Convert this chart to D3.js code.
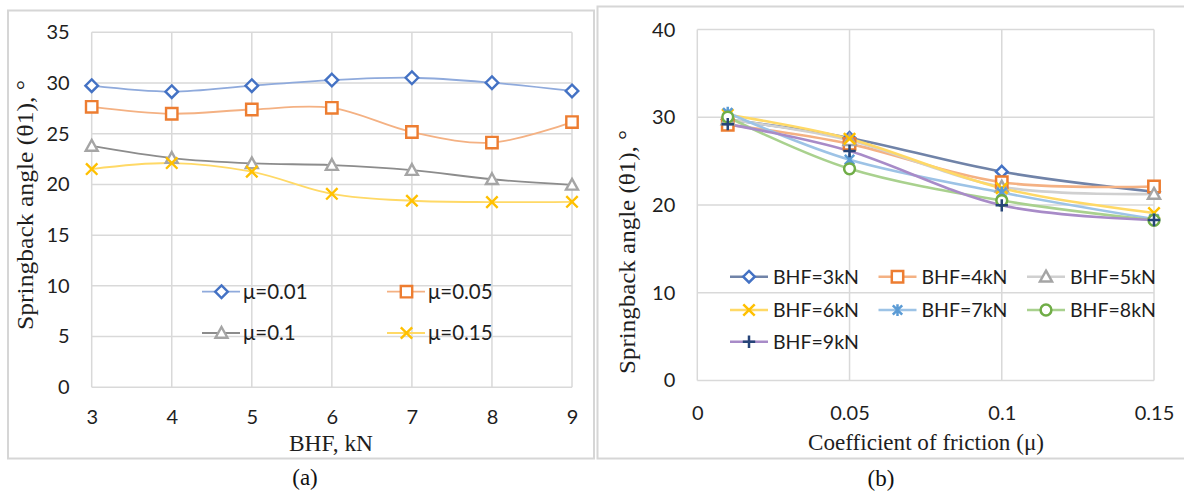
<!DOCTYPE html>
<html>
<head>
<meta charset="utf-8">
<script src="https://cdn.jsdelivr.net/npm/d3@7"></script>
<style>
  html, body { margin: 0; padding: 0; background: #fff; }
  svg { display: block; }
</style>
</head>
<body>
<svg id="fig" width="1184" height="491"></svg>
<script>
// Blank holder force (kN) on the category axis of panel (a)
const bhfCategories = [3, 4, 5, 6, 7, 8, 9];
// Friction coefficients
const muLevels = [0.01, 0.05, 0.1, 0.15];

// Springback angle (deg) for each friction coefficient, over BHF 3..9 kN
const springMu001 = [29.74, 29.15, 29.74, 30.29, 30.52, 30.03, 29.22];
const springMu005 = [27.65, 26.97, 27.39, 27.55, 25.17, 24.13, 26.15];
const springMu010 = [23.80, 22.60, 22.08, 21.91, 21.42, 20.51, 19.96];
const springMu015 = [21.52, 22.11, 21.26, 19.08, 18.39, 18.26, 18.29];

const muLabels  = ["μ=0.01", "μ=0.05", "μ=0.1", "μ=0.15"];
const bhfLabels = ["BHF=3kN", "BHF=4kN", "BHF=5kN", "BHF=6kN", "BHF=7kN", "BHF=8kN", "BHF=9kN"];

const yTicksA = [0, 5, 10, 15, 20, 25, 30, 35];
const yTicksB = [0, 10, 20, 30, 40];
const xTicksB = [0, 0.05, 0.1, 0.15];
const xTickLabelsB = ["0", "0.05", "0.1", "0.15"];

const axisTitleY = "Springback angle (θ1), °";
const axisTitleXA = "BHF, kN";
const axisTitleXB = "Coefficient of friction (μ)";

const svg = d3.select("#fig");
svg.append("rect").attr("width", 1184).attr("height", 491).attr("fill", "#fff");

const GRID = "#d9d9d9";
const TICK_FONT = "Lato, 'Open Sans', sans-serif";
const SERIF = "'Liberation Serif', 'DejaVu Serif', serif";
const TEXT = "#1e1e1e";

// marker glyphs
function markerPath(kind, s) {
  const p = d3.path();
  if (kind === "diamond") { p.moveTo(0, -s); p.lineTo(s, 0); p.lineTo(0, s); p.lineTo(-s, 0); p.closePath(); }
  else if (kind === "square") { p.rect(-s, -s, 2 * s, 2 * s); }
  else if (kind === "triangle") { const h = s * 1.05; p.moveTo(0, -h); p.lineTo(h, h * 0.8); p.lineTo(-h, h * 0.8); p.closePath(); }
  else if (kind === "x") { p.moveTo(-s, -s); p.lineTo(s, s); p.moveTo(s, -s); p.lineTo(-s, s); }
  else if (kind === "star") { p.moveTo(-s, -s); p.lineTo(s, s); p.moveTo(s, -s); p.lineTo(-s, s); p.moveTo(0, -s * 1.25); p.lineTo(0, s * 1.25); }
  else if (kind === "circle") { p.moveTo(s, 0); p.arc(0, 0, s, 0, Math.PI * 2); }
  else if (kind === "plus") { p.moveTo(-s, 0); p.lineTo(s, 0); p.moveTo(0, -s); p.lineTo(0, s); }
  return p.toString();
}
const filled = k => (k === "diamond" || k === "square" || k === "triangle" || k === "circle");

function drawMarker(g, kind, color, x, y, size, sw) {
  g.append("path")
    .attr("d", markerPath(kind, size))
    .attr("transform", `translate(${x},${y})`)
    .attr("fill", filled(kind) ? "#fff" : "none")
    .attr("stroke", color)
    .attr("stroke-width", sw)
    .attr("stroke-linecap", "butt");
}

// ---------- panel frames ----------
svg.append("rect").attr("x", 8).attr("y", 10.5).attr("width", 586).attr("height", 448)
  .attr("fill", "none").attr("stroke", "#d6d6d6").attr("stroke-width", 2);
svg.append("rect").attr("x", 597.5).attr("y", 6.5).attr("width", 600).attr("height", 452)
  .attr("fill", "none").attr("stroke", "#d6d6d6").attr("stroke-width", 2);

// ================= Panel (a) =================
const seriesA = [springMu001, springMu005, springMu010, springMu015];
const styleA = [
  { line: "#8faadc", mark: "#4472c4", kind: "diamond", size: 6.3 },
  { line: "#f4b183", mark: "#ed7d31", kind: "square", size: 5.7 },
  { line: "#8c8c8c", mark: "#a5a5a5", kind: "triangle", size: 5.7 },
  { line: "#ffd966", mark: "#ffc000", kind: "x", size: 5.7 }
];

const xA = d3.scalePoint().domain(bhfCategories).range([91.7, 572]).padding(0);
const yA = d3.scaleLinear().domain([0, 35]).range([387.3, 32.3]);

const gA = svg.append("g");
// grid
gA.append("g").selectAll("line").data(yTicksA).join("line")
  .attr("x1", xA(3)).attr("x2", xA(9)).attr("y1", d => yA(d)).attr("y2", d => yA(d))
  .attr("stroke", GRID).attr("stroke-width", 1.5);
gA.append("g").selectAll("line").data(bhfCategories).join("line")
  .attr("x1", d => xA(d)).attr("x2", d => xA(d)).attr("y1", yA(0)).attr("y2", yA(35))
  .attr("stroke", GRID).attr("stroke-width", 1.5);

// tick labels through d3 axes with hidden domain/ticks
const axYA = gA.append("g").attr("transform", `translate(${xA(3)},0)`)
  .call(d3.axisLeft(yA).tickValues(yTicksA).tickSize(0).tickPadding(22));
const axXA = gA.append("g").attr("transform", `translate(0,${yA(0)})`)
  .call(d3.axisBottom(xA).tickSize(0).tickPadding(23));
[axYA, axXA].forEach(ax => {
  ax.select(".domain").remove();
  ax.selectAll("text").attr("font-family", TICK_FONT).attr("font-size", 20).attr("fill", TEXT);
});
axXA.selectAll("text").attr("dy", "0.71em");

const lineA = d3.line().x((d, i) => xA(bhfCategories[i])).y(d => yA(d)).curve(d3.curveCatmullRom.alpha(0));
seriesA.forEach((vals, si) => {
  gA.append("path").attr("d", lineA(vals)).attr("fill", "none")
    .attr("stroke", styleA[si].line).attr("stroke-width", 1.8);
});
seriesA.forEach((vals, si) => {
  vals.forEach((v, i) => drawMarker(gA, styleA[si].kind, styleA[si].mark, xA(bhfCategories[i]), yA(v), styleA[si].size, 2.4));
});

// legend (a)
const legA = [
  { x: 202, y: 291.7 }, { x: 387, y: 291.7 },
  { x: 202, y: 333 }, { x: 387, y: 333 }
];
legA.forEach((p, i) => {
  const st = styleA[i];
  gA.append("line").attr("x1", p.x).attr("x2", p.x + 38).attr("y1", p.y).attr("y2", p.y)
    .attr("stroke", st.line).attr("stroke-width", 1.8);
  drawMarker(gA, st.kind, st.mark, p.x + 19.5, p.y, st.size, 2.4);
  gA.append("text").attr("x", p.x + 41).attr("y", p.y).attr("dy", "0.35em")
    .attr("font-family", TICK_FONT).attr("font-size", 20.5).attr("fill", TEXT).text(muLabels[i]);
});

// axis titles (a)
gA.append("text").attr("x", 331).attr("y", 443).attr("dy", "0.35em").attr("text-anchor", "middle")
  .attr("font-family", SERIF).attr("font-size", 22.5).attr("fill", TEXT)
  .attr("textLength", 84).attr("lengthAdjust", "spacingAndGlyphs").text(axisTitleXA);
gA.append("text").attr("transform", "translate(25,205) rotate(-90)").attr("dy", "0.35em").attr("text-anchor", "middle")
  .attr("font-family", SERIF).attr("font-size", 22.5).attr("fill", TEXT)
  .attr("textLength", 250).attr("lengthAdjust", "spacingAndGlyphs").text(axisTitleY);

svg.append("text").attr("x", 305).attr("y", 477).attr("dy", "0.35em").attr("text-anchor", "middle")
  .attr("font-family", SERIF).attr("font-size", 23).attr("fill", "#111").text("(a)");

// ================= Panel (b) =================
const styleB = [
  { line: "#7083a8", mark: "#4472c4", kind: "diamond", size: 5.8 },
  { line: "#f4b183", mark: "#ed7d31", kind: "square", size: 5.7 },
  { line: "#d0d0d0", mark: "#a5a5a5", kind: "triangle", size: 5.7 },
  { line: "#ffd966", mark: "#ffc000", kind: "x", size: 5.7 },
  { line: "#9dc3e6", mark: "#5b9bd5", kind: "star", size: 4.7 },
  { line: "#a9d18e", mark: "#70ad47", kind: "circle", size: 5.4 },
  { line: "#a88bc8", mark: "#264478", kind: "plus", size: 6.2 }
];
// one series per BHF, running across friction levels
const seriesB = bhfCategories.map((b, bi) => seriesA.map(vals => vals[bi]));

const xB = d3.scaleLinear().domain([0, 0.15]).range([697.3, 1154]);
const yB = d3.scaleLinear().domain([0, 40]).range([380.4, 29.6]);
const gB = svg.append("g");

gB.append("g").selectAll("line").data(yTicksB).join("line")
  .attr("x1", xB(0)).attr("x2", xB(0.15)).attr("y1", d => yB(d)).attr("y2", d => yB(d))
  .attr("stroke", GRID).attr("stroke-width", 1.5);
gB.append("g").selectAll("line").data(xTicksB).join("line")
  .attr("x1", d => xB(d)).attr("x2", d => xB(d)).attr("y1", yB(0)).attr("y2", yB(40))
  .attr("stroke", GRID).attr("stroke-width", 1.5);

const axYB = gB.append("g").attr("transform", `translate(${xB(0)},0)`)
  .call(d3.axisLeft(yB).tickValues(yTicksB).tickSize(0).tickPadding(22));
const axXB = gB.append("g").attr("transform", `translate(0,${yB(0)})`)
  .call(d3.axisBottom(xB).tickValues(xTicksB).tickFormat((d, i) => xTickLabelsB[i]).tickSize(0).tickPadding(25));
[axYB, axXB].forEach(ax => {
  ax.select(".domain").remove();
  ax.selectAll("text").attr("font-family", TICK_FONT).attr("font-size", 20).attr("fill", TEXT);
});
axXB.selectAll("text").attr("dy", "0.71em");

const lineB = d3.line().x((d, i) => xB(muLevels[i])).y(d => yB(d)).curve(d3.curveCatmullRom.alpha(0));
seriesB.forEach((vals, si) => {
  gB.append("path").attr("d", lineB(vals)).attr("fill", "none")
    .attr("stroke", styleB[si].line).attr("stroke-width", 2.6);
});
seriesB.forEach((vals, si) => {
  vals.forEach((v, i) => drawMarker(gB, styleB[si].kind, styleB[si].mark, xB(muLevels[i]), yB(v), styleB[si].size, 2.5));
});

// legend (b): three columns
const colX = [730, 878.5, 1027];
const rowY = [276.7, 310, 341.7];
bhfLabels.forEach((lab, i) => {
  const x = colX[i % 3], y = rowY[Math.floor(i / 3)];
  const st = styleB[i];
  gB.append("line").attr("x1", x).attr("x2", x + 38).attr("y1", y).attr("y2", y)
    .attr("stroke", st.line).attr("stroke-width", 2.6);
  drawMarker(gB, st.kind, st.mark, x + 19, y, st.size, 2.5);
  gB.append("text").attr("x", x + 43).attr("y", y).attr("dy", "0.35em")
    .attr("font-family", TICK_FONT).attr("font-size", 19.5).attr("fill", TEXT).text(lab);
});

gB.append("text").attr("x", 926).attr("y", 442).attr("dy", "0.35em").attr("text-anchor", "middle")
  .attr("font-family", SERIF).attr("font-size", 22.5).attr("fill", TEXT)
  .attr("textLength", 236).attr("lengthAdjust", "spacingAndGlyphs").text(axisTitleXB);
gB.append("text").attr("transform", "translate(627,252) rotate(-90)").attr("dy", "0.35em").attr("text-anchor", "middle")
  .attr("font-family", SERIF).attr("font-size", 22.5).attr("fill", TEXT)
  .attr("textLength", 244).attr("lengthAdjust", "spacingAndGlyphs").text(axisTitleY);

svg.append("text").attr("x", 881).attr("y", 478).attr("dy", "0.35em").attr("text-anchor", "middle")
  .attr("font-family", SERIF).attr("font-size", 23).attr("fill", "#111").text("(b)");
</script>
</body>
</html>
